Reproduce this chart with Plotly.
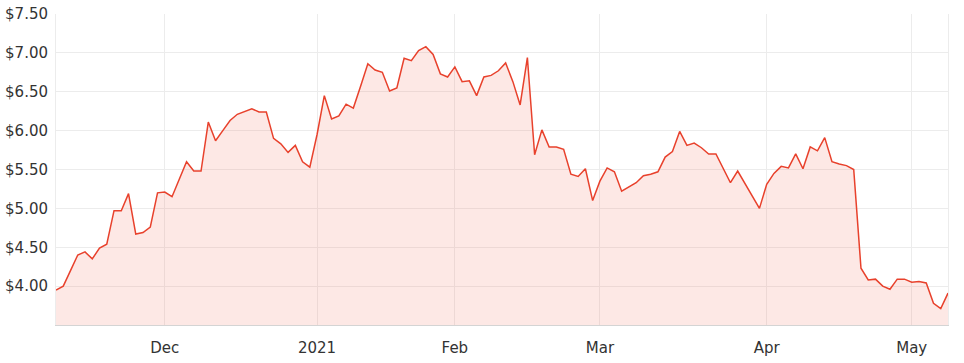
import pandas as pd
import plotly.graph_objects as go

# Daily closing prices (trading days from 10 Nov 2020)
prices = [
    3.95, 4.00, 4.20, 4.40, 4.44, 4.35, 4.49, 4.54, 4.97, 4.97,
    5.19, 4.67, 4.69, 4.76, 5.20, 5.21, 5.15, 5.37, 5.60, 5.48,
    5.48, 6.11, 5.87, 6.00, 6.13, 6.21, 6.24, 6.28, 6.24, 6.24,
    5.90, 5.83, 5.72, 5.81, 5.60, 5.53, 5.95, 6.45, 6.15, 6.19,
    6.34, 6.29, 6.57, 6.86, 6.78, 6.75, 6.51, 6.55, 6.93, 6.90,
    7.03, 7.08, 6.98, 6.73, 6.69, 6.82, 6.63, 6.64, 6.45, 6.69,
    6.71, 6.77, 6.87, 6.63, 6.33, 6.94, 5.69, 6.01, 5.79, 5.79,
    5.76, 5.44, 5.41, 5.51, 5.10, 5.35, 5.52, 5.47, 5.22, 5.28,
    5.33, 5.42, 5.44, 5.47, 5.66, 5.73, 5.99, 5.81, 5.84, 5.78,
    5.70, 5.70, 5.51, 5.33, 5.48, 5.32, 5.15, 5.00, 5.31, 5.45,
    5.54, 5.52, 5.70, 5.51, 5.79, 5.74, 5.91, 5.60, 5.57, 5.55,
    5.50, 4.23, 4.08, 4.09, 4.00, 3.96, 4.09, 4.09, 4.05, 4.06,
    4.04, 3.78, 3.71, 3.91,
]

holidays = ["2020-12-25", "2020-12-28", "2021-01-01", "2021-01-26",
            "2021-04-02", "2021-04-05"]
dates = pd.bdate_range("2020-11-10", periods=len(prices), freq="C",
                       holidays=holidays).strftime("%Y-%m-%d").tolist()

tick_dates = ["2020-12-01", "2021-01-04", "2021-02-01", "2021-03-01",
              "2021-04-01", "2021-05-03"]
tick_labels = ["Dec", "2021", "Feb", "Mar", "Apr", "May"]

y_ticks = [4.0, 4.5, 5.0, 5.5, 6.0, 6.5, 7.0, 7.5]

fig = go.Figure(
    go.Scatter(
        x=dates,
        y=prices,
        mode="lines",
        line=dict(color="#e8412c", width=1.5),
        fill="tozeroy",
        fillcolor="rgba(244,120,100,0.17)",
        hoverinfo="skip",
    )
)

font = dict(family="DejaVu Sans", size=15, color="#333333")

fig.update_layout(
    width=964,
    height=363,
    margin=dict(l=56, r=16, t=14, b=38),
    paper_bgcolor="white",
    plot_bgcolor="white",
    showlegend=False,
    font=font,
)
fig.update_xaxes(
    type="category",
    range=[0, len(prices) - 1],
    tickmode="array",
    tickvals=tick_dates,
    ticktext=tick_labels,
    showgrid=True,
    gridcolor="#ececec",
    gridwidth=1,
    showline=True,
    linecolor="#d4d4d4",
    linewidth=1,
    ticks="",
    ticklabelstandoff=9,
    automargin=False,
    tickfont=font,
)
fig.update_yaxes(
    range=[3.5, 7.5],
    tickmode="array",
    tickvals=y_ticks,
    tickformat="$.2f",
    showgrid=True,
    gridcolor="#ececec",
    gridwidth=1,
    showline=True,
    mirror=True,
    linecolor="#ececec",
    linewidth=1,
    zeroline=False,
    ticks="",
    ticklabelstandoff=4,
    automargin=False,
    tickfont=font,
)

fig.write_html("out.html")
